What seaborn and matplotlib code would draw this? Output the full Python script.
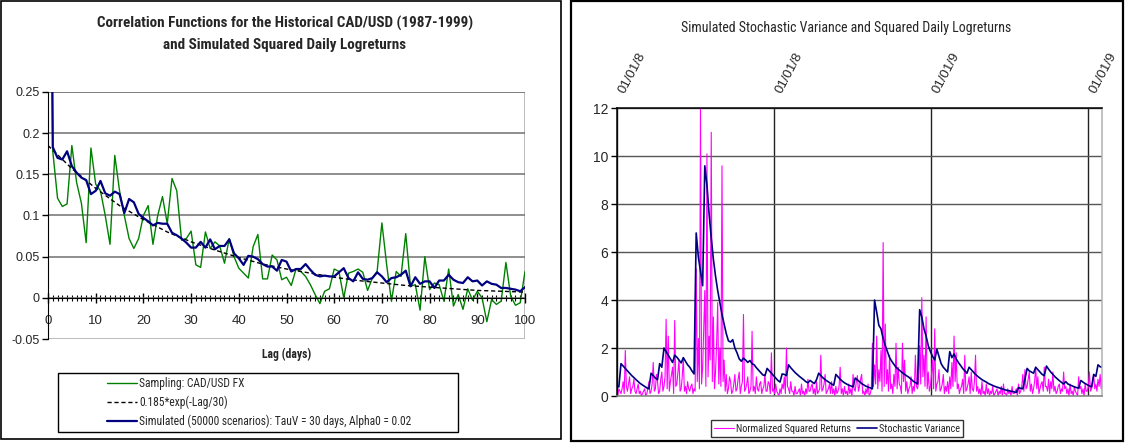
import numpy as np
import pandas as pd
import matplotlib
matplotlib.use("Agg")
import matplotlib.pyplot as plt
import seaborn as sns
from matplotlib.patches import Rectangle
from matplotlib.ticker import MultipleLocator, FixedLocator, FixedFormatter

# ---------------- Left chart data ----------------
lags = list(range(0, 101))
sampling = [1.0, 0.178, 0.121, 0.111, 0.114, 0.185, 0.140, 0.115, 0.067, 0.182,
            0.138, 0.130, 0.100, 0.065, 0.173, 0.130, 0.100, 0.072, 0.060, 0.072,
            0.100, 0.112, 0.065, 0.100, 0.123, 0.090, 0.145, 0.130, 0.070, 0.072,
            0.081, 0.040, 0.037, 0.080, 0.060, 0.068, 0.063, 0.042, 0.072, 0.050,
            0.036, 0.030, 0.024, 0.062, 0.077, 0.023, 0.023, 0.052, 0.046, 0.022,
            0.025, 0.015, 0.035, 0.032, 0.026, 0.016, 0.004, -0.007, 0.008, 0.011,
            0.035, 0.032, 0.000, 0.030, 0.032, 0.035, 0.031, 0.009, 0.024, 0.032,
            0.091, 0.040, -0.004, 0.032, 0.026, 0.078, 0.014, 0.016, -0.015, 0.050,
            0.010, 0.018, 0.016, -0.004, 0.035, -0.010, 0.004, -0.014, 0.011, -0.003,
            0.008, 0.000, -0.029, -0.002, -0.008, -0.004, 0.043, 0.002, -0.009, -0.006,
            0.032]
simulated = [1.0, 0.183, 0.170, 0.168, 0.178, 0.160, 0.152, 0.146, 0.143, 0.126,
             0.130, 0.142, 0.127, 0.124, 0.129, 0.126, 0.103, 0.120, 0.116, 0.102,
             0.097, 0.093, 0.088, 0.091, 0.090, 0.090, 0.079, 0.076, 0.072, 0.067,
             0.061, 0.061, 0.068, 0.061, 0.071, 0.059, 0.063, 0.063, 0.071, 0.054,
             0.048, 0.040, 0.051, 0.050, 0.047, 0.041, 0.038, 0.038, 0.033, 0.046,
             0.044, 0.032, 0.035, 0.035, 0.041, 0.034, 0.028, 0.026, 0.027, 0.026,
             0.026, 0.031, 0.036, 0.024, 0.020, 0.031, 0.023, 0.022, 0.024, 0.031,
             0.026, 0.019, 0.024, 0.025, 0.028, 0.033, 0.014, 0.025, 0.017, 0.020,
             0.020, 0.012, 0.021, 0.021, 0.028, 0.022, 0.019, 0.018, 0.025, 0.020,
             0.021, 0.015, 0.020, 0.017, 0.016, 0.012, 0.012, 0.011, 0.010, 0.008,
             0.013]
fit_lags = list(range(0, 101, 5))
fit_values = [0.185, 0.157, 0.133, 0.112, 0.095, 0.080, 0.068, 0.058, 0.049, 0.041,
              0.035, 0.030, 0.025, 0.021, 0.018, 0.015, 0.013, 0.011, 0.009, 0.008,
              0.007]

left_title = ("Correlation Functions for the Historical CAD/USD (1987-1999)\n"
              "and Simulated Squared Daily Logreturns")
left_xlabel = "Lag (days)"
left_labels = ["Sampling: CAD/USD FX", "0.185*exp(-Lag/30)",
               "Simulated (50000 scenarios): TauV = 30 days, Alpha0 = 0.02"]
left_yticks = [-0.05, 0, 0.05, 0.1, 0.15, 0.2, 0.25]
left_yticklabels = ["-0.05", "0", "0.05", "0.1", "0.15", "0.2", "0.25"]
left_xticks = [0, 10, 20, 30, 40, 50, 60, 70, 80, 90, 100]

# ---------------- Right chart data ----------------
variance_step_days = 5
variance = [0.42, 0.38, 1.35, 1.25, 1.15, 1.05, 0.95, 0.85, 0.77, 0.68,
            0.60, 0.52, 0.46, 0.40, 0.34, 0.30, 0.95, 0.85, 0.75, 0.68,
            1.35, 1.20, 2.00, 1.85, 1.70, 1.55, 1.40, 1.70, 1.62, 1.50,
            1.38, 1.60, 1.45, 1.30, 1.20, 1.05, 0.92, 6.80, 5.80, 5.20,
            4.60, 9.60, 8.80, 7.60, 6.60, 5.70, 5.00, 4.40, 3.90, 3.40,
            3.00, 2.60, 2.30, 2.25, 2.35, 2.00, 1.80, 1.55, 1.45, 1.58,
            1.50, 1.40, 1.48, 1.35, 1.30, 1.18, 1.08, 0.98, 0.88, 0.85,
            1.15, 1.05, 0.95, 0.85, 0.75, 0.65, 0.58, 0.92, 0.90, 0.85,
            1.30, 1.18, 1.08, 0.98, 0.90, 0.82, 0.75, 0.68, 0.60, 0.55,
            0.65, 0.58, 0.52, 0.68, 0.95, 0.85, 0.76, 0.68, 0.62, 0.56,
            0.50, 0.45, 0.90, 0.80, 0.70, 0.62, 0.55, 0.50, 0.45, 0.42,
            0.38, 0.75, 0.67, 0.60, 0.52, 0.46, 0.41, 0.37, 0.34, 0.30,
            4.00, 3.50, 2.95, 2.80, 2.40, 2.10, 1.85, 1.60, 1.45, 1.32,
            1.20, 1.12, 1.04, 0.97, 0.90, 0.84, 0.78, 0.70, 0.62, 0.56,
            0.50, 3.60, 3.30, 2.80, 2.50, 2.10, 1.85, 1.65, 1.50, 1.95,
            1.65, 1.35, 1.20, 1.10, 1.00, 1.85, 1.60, 1.75, 1.55, 1.40,
            1.28, 1.15, 1.05, 0.95, 1.20, 1.10, 1.00, 0.90, 0.82, 0.75,
            0.68, 0.63, 0.58, 0.52, 0.48, 0.44, 0.40, 0.37, 0.34, 0.31,
            0.28, 0.25, 0.23, 0.21, 0.19, 0.17, 0.15, 0.35, 0.32, 0.30,
            0.70, 1.15, 1.05, 1.00, 0.95, 1.20, 1.10, 1.00, 0.90, 0.85,
            1.25, 1.12, 1.00, 0.90, 0.80, 0.72, 0.64, 0.57, 0.50, 0.60,
            0.50, 0.46, 0.42, 0.38, 0.35, 0.33, 0.65, 0.58, 0.52, 0.47,
            0.42, 0.38, 0.90, 0.82, 1.30, 1.22, 1.20]
returns_step_days = 2.5
sq_returns = [0.1, 0.0, 0.3, 0.2, 0.1, 0.3, 0.6, 0.1, 1.9, 0.4, 0.2, 0.5, 0.8, 0.1, 0.3, 0.4, 0.7, 0.2, 0.1, 0.3,
              0.5, 0.1, 0.2, 0.0, 0.1, 0.2, 0.3, 0.0, 0.1, 0.3, 0.6, 0.1, 0.2, 0.5, 1.4, 0.2, 0.3, 0.9, 0.6, 0.1,
              0.2, 0.7, 1.0, 0.2, 0.4, 0.8, 3.2, 0.3, 2.5, 0.2, 0.6, 0.9, 1.2, 0.1, 3.15, 0.4, 0.5, 1.0, 1.5, 0.2,
              0.3, 0.8, 1.6, 0.2, 0.4, 0.1, 0.6, 0.3, 0.2, 0.4, 0.5, 0.1, 0.3, 0.2, 5.3, 0.6, 2.4, 0.3, 12.0, 0.5,
              1.2, 2.8, 4.4, 0.4, 10.1, 0.8, 2.5, 1.5, 11.0, 0.6, 3.3, 0.3, 1.0, 2.2, 3.9, 0.5, 2.0, 0.4, 9.6, 0.6,
              1.5, 0.2, 0.9, 0.1, 0.3, 0.8, 0.6, 0.1, 0.2, 0.5, 0.9, 0.2, 0.3, 0.7, 1.0, 0.1, 0.4, 0.6, 3.4, 0.2,
              0.3, 0.5, 0.8, 0.1, 0.2, 0.4, 2.7, 0.2, 0.4, 0.1, 0.8, 0.3, 0.2, 0.5, 0.6, 0.1, 0.3, 0.4, 0.9, 0.2,
              0.2, 0.6, 0.5, 0.1, 1.8, 0.2, 0.3, 0.1, 0.5, 0.2, 0.1, 0.0, 0.3, 0.1, 0.5, 0.3, 0.8, 0.1, 2.0, 0.4,
              0.3, 0.1, 0.6, 0.2, 0.2, 0.0, 0.4, 0.1, 0.1, 0.2, 0.3, 0.0, 0.5, 0.1, 0.2, 0.0, 0.3, 0.1, 0.7, 0.2,
              0.2, 0.4, 0.5, 0.1, 0.3, 0.0, 0.6, 0.1, 0.2, 0.3, 1.7, 0.2, 0.3, 0.5, 0.9, 0.1, 0.2, 0.3, 0.5, 0.1,
              0.6, 0.1, 0.3, 0.0, 0.4, 0.1, 0.2, 0.4, 1.2, 0.1, 0.3, 0.0, 0.4, 0.1, 0.2, 0.0, 0.5, 0.1, 0.3, 0.0,
              0.9, 0.3, 0.2, 0.6, 0.85, 0.2, 0.4, 0.7, 0.9, 0.1, 0.2, 0.0, 0.3, 0.1, 0.5, 0.0, 0.1, 0.3, 2.2, 0.4,
              1.3, 0.5, 2.5, 0.3, 1.1, 0.6, 1.9, 0.2, 6.4, 0.4, 3.0, 0.5, 1.1, 0.2, 1.7, 0.3, 0.5, 0.1, 0.9, 0.4,
              2.2, 0.3, 1.2, 0.5, 0.4, 0.1, 2.2, 0.6, 1.5, 0.2, 0.6, 0.1, 0.3, 0.4, 0.8, 0.1, 0.4, 0.2, 1.7, 0.4,
              0.3, 0.6, 2.1, 0.5, 4.1, 0.8, 1.7, 0.4, 3.3, 0.3, 1.0, 0.2, 0.4, 0.9, 1.5, 0.3, 2.8, 0.2, 0.5, 0.6,
              1.1, 0.2, 0.3, 0.5, 0.9, 0.1, 0.4, 0.2, 0.6, 0.1, 0.8, 0.3, 1.4, 0.4, 2.5, 0.6, 1.8, 0.3, 0.5, 0.1,
              0.3, 0.4, 0.7, 0.1, 1.7, 0.2, 0.3, 0.5, 0.8, 0.1, 1.0, 0.3, 0.2, 0.6, 1.7, 0.2, 0.4, 0.1, 0.3, 0.0,
              0.6, 0.1, 0.2, 0.0, 0.5, 0.1, 0.3, 0.0, 0.2, 0.1, 0.4, 0.0, 0.1, 0.2, 0.3, 0.0, 0.2, 0.1, 0.4, 0.0,
              0.5, 0.1, 0.1, 0.0, 0.3, 0.1, 0.2, 0.0, 0.4, 0.1, 0.1, 0.2, 0.3, 0.0, 0.5, 0.1, 0.2, 0.4, 0.9, 0.2,
              1.1, 0.3, 0.4, 0.7, 1.0, 0.2, 0.5, 0.1, 0.3, 0.6, 1.2, 0.3, 0.8, 0.1, 0.3, 0.5, 0.6, 0.2, 1.2, 0.4,
              0.4, 0.2, 0.7, 0.1, 0.6, 0.3, 1.0, 0.2, 0.4, 0.1, 0.2, 0.4, 0.5, 0.1, 0.3, 0.2, 1.0, 0.3, 0.4, 0.1,
              0.3, 0.0, 0.5, 0.1, 0.2, 0.0, 0.4, 0.2, 0.1, 0.0, 0.8, 0.3, 0.4, 0.1, 0.3, 0.0, 0.5, 0.2, 0.2, 0.4,
              1.0, 0.2, 0.3, 0.5, 0.9, 0.3, 0.5, 0.2, 0.7, 0.4, 0.9, 0.3, 0.8]
year_tick_days = [0, 366, 731, 1096]
year_tick_labels = ["01/01/8", "01/01/8", "01/01/9", "01/01/9"]
right_yticks = [0, 2, 4, 6, 8, 10, 12]
right_title = "Simulated Stochastic Variance and Squared Daily Logreturns"
right_labels = ["Normalized Squared Returns", "Stochastic Variance"]

# ---------------- Style ----------------
sns.set_style("white")
plt.rcParams["font.family"] = ["Liberation Sans", "DejaVu Sans"]
narrow = ["Roboto Condensed", "Liberation Sans", "DejaVu Sans"]

W, H = 1125, 447
fig = plt.figure(figsize=(W / 100, H / 100), dpi=100)
fig.patch.set_facecolor("white")


def fx(px):
    return px / W


def fy(py):
    return 1 - py / H


# panel frames
fig.add_artist(Rectangle((fx(1), fy(439)), fx(561) - fx(1), fy(1) - fy(439),
                         transform=fig.transFigure, fill=False, edgecolor="black", lw=1.2))
fig.add_artist(Rectangle((fx(571), fy(441)), fx(1123) - fx(571), fy(1) - fy(441),
                         transform=fig.transFigure, fill=False, edgecolor="black", lw=1.6))

# ---------------- Left chart ----------------
ax1 = fig.add_axes([fx(48), fy(339), fx(525) - fx(48), fy(92) - fy(339)])
df_samp = pd.DataFrame({"lag": lags, "value": sampling})
df_sim = pd.DataFrame({"lag": lags, "value": simulated})
df_fit = pd.DataFrame({"lag": fit_lags, "value": fit_values})
sns.lineplot(data=df_samp, x="lag", y="value", ax=ax1, color="#008000", lw=1.0,
             label=left_labels[0])
sns.lineplot(data=df_fit, x="lag", y="value", ax=ax1, color="black", lw=1.0,
             label=left_labels[1])
ax1.lines[-1].set_dashes([3, 2])
sns.lineplot(data=df_sim, x="lag", y="value", ax=ax1, color="#000080", lw=1.6,
             label=left_labels[2])

ax1.set_xlim(0, 100)
ax1.set_ylim(-0.05, 0.25)
ax1.yaxis.set_major_locator(FixedLocator(left_yticks))
ax1.yaxis.set_major_formatter(FixedFormatter(left_yticklabels))
ax1.xaxis.set_major_locator(FixedLocator(left_xticks))
ax1.xaxis.set_minor_locator(MultipleLocator(1))
ax1.spines["bottom"].set_position(("data", 0))
for s in ["top", "right"]:
    ax1.spines[s].set_visible(False)
ax1.spines["left"].set_color("black")
ax1.spines["bottom"].set_color("black")
ax1.add_patch(Rectangle((0, 0), 1, 1, transform=ax1.transAxes, fill=False,
                        edgecolor="#b0b0b0", lw=1.2, zorder=0))
ax1.yaxis.grid(True, color="#707070", lw=1.1)
ax1.get_ygridlines()[0].set_visible(False)
ax1.set_axisbelow(True)
ax1.tick_params(axis="y", which="major", direction="out", length=4, width=1,
                labelsize=9, left=True, pad=2, color="black")
ax1.tick_params(axis="x", which="major", direction="inout", length=7, width=1,
                labelsize=9.5, bottom=True, pad=9, color="black")
ax1.tick_params(axis="x", which="minor", direction="inout", length=4, width=0.8,
                bottom=True, color="black")
ax1.set_xlabel(left_xlabel, fontsize=8.5, fontweight="bold", family=narrow)
ax1.xaxis.set_label_coords(0.5, -0.035)
ax1.set_ylabel("")
ax1.legend_.remove()
h1, l1 = ax1.get_legend_handles_labels()

fig.text(fx(285), fy(34), left_title, ha="center", va="center", fontsize=10.9,
         fontweight="bold", family=narrow, linespacing=1.6)

fig.add_artist(Rectangle((fx(58), fy(432)), fx(458) - fx(58), fy(373) - fy(432),
                         transform=fig.transFigure, fill=False, edgecolor="black", lw=1.0))
fig.legend(h1, l1, loc="center", bbox_to_anchor=(fx(259), fy(402.5)), frameon=False,
           prop={"family": narrow, "size": 8.3}, handlelength=2.6, handletextpad=0.2,
           labelspacing=0.45, borderpad=0.2)

# ---------------- Right chart ----------------
ax2 = fig.add_axes([fx(616.7), fy(396), fx(1102.3) - fx(616.7), fy(108.3) - fy(396)])
days_v = [variance_step_days * i for i in range(len(variance))]
days_r = [returns_step_days * i for i in range(len(sq_returns))]
df_ret = pd.DataFrame({"day": days_r, "value": sq_returns})
df_var = pd.DataFrame({"day": days_v, "value": variance})
sns.lineplot(data=df_ret, x="day", y="value", ax=ax2, color="#FF00FF", lw=0.8,
             label=right_labels[0])
sns.lineplot(data=df_var, x="day", y="value", ax=ax2, color="#000080", lw=1.2,
             label=right_labels[1])
ax2.set_xlim(0, max(days_v))
ax2.set_ylim(0, 12)
ax2.yaxis.set_major_locator(FixedLocator(right_yticks))
ax2.xaxis.set_major_locator(FixedLocator(year_tick_days))
ax2.xaxis.set_major_formatter(FixedFormatter(year_tick_labels))
ax2.xaxis.tick_top()
ax2.grid(True, axis="y", color="#555555", lw=1.0)
ax2.grid(True, axis="x", color="#222222", lw=1.0)
ax2.set_axisbelow(True)
ax2.spines["left"].set_color("black")
ax2.spines["top"].set_color("black")
ax2.spines["right"].set_color("#b0b0b0")
ax2.spines["bottom"].set_color("#808080")
for s in ax2.spines.values():
    s.set_linewidth(1.1)
ax2.tick_params(axis="y", direction="out", length=4, width=1, labelsize=10,
                left=True, pad=2, color="black")
ax2.tick_params(axis="x", length=0, labelsize=9.5, pad=13)
for lbl in ax2.get_xticklabels():
    lbl.set_rotation(62)
    lbl.set_ha("left")
    lbl.set_va("top")
    lbl.set_rotation_mode("anchor")
ax2.set_xlabel("")
ax2.set_ylabel("")
ax2.legend_.remove()
h2, l2 = ax2.get_legend_handles_labels()
leg2 = fig.legend(h2, l2, loc="center", bbox_to_anchor=(fx(837), fy(428.5)), ncol=2,
                  frameon=True, fancybox=False, edgecolor="black",
                  prop={"family": narrow, "size": 7.4}, handlelength=2.0,
                  handletextpad=0.2, columnspacing=0.5, borderpad=0.3)
leg2.get_frame().set_linewidth(1.0)

fig.text(fx(846), fy(28), right_title, ha="center", va="center", fontsize=10.0,
         family=narrow)

fig.savefig("out.png", dpi=100, facecolor="white")
